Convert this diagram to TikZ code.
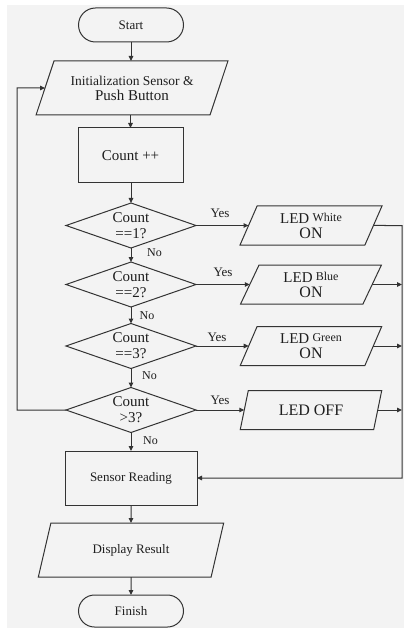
\documentclass[tikz,border=0pt]{standalone}
\usepackage{fontspec}
\setmainfont{Liberation Serif}
\usetikzlibrary{shapes.geometric,arrows.meta}
\definecolor{pagebg}{HTML}{F3F3F3}
\definecolor{ink}{HTML}{333333}
\definecolor{textink}{HTML}{1E1E1E}
\begin{document}
\begin{tikzpicture}[x=1pt,y=-1pt,
  every node/.style={font=\fontsize{13}{15}\selectfont, text=textink},
  box/.style={draw=ink, line width=1pt, fill=pagebg, inner sep=0pt, outer sep=0pt},
  terminal/.style={box, rectangle, rounded corners=17pt, minimum width=105pt, minimum height=34pt},
  process/.style={box, rectangle, align=center},
  io/.style={box, trapezium, trapezium stretches=true, align=center},
  ledbox/.style={io, trapezium left angle=69, trapezium right angle=111,
    minimum width=142pt, minimum height=39pt},
  decision/.style={box, diamond, minimum width=130pt, minimum height=45pt,
    label={[align=center, inner sep=0pt, font=\fontsize{15}{16}\selectfont]center:#1}},
  flow/.style={draw=ink, line width=1pt, -{Triangle[length=5pt,width=4.5pt]}},
  yeslbl/.style={font=\fontsize{13}{15}\selectfont, inner sep=0pt},
  nolbl/.style={font=\fontsize{12}{14}\selectfont, inner sep=0pt}
]
\useasboundingbox (0,0) rectangle (404,628);
\fill[white] (0,0) rectangle (404,628);
\fill[pagebg] (7,5) rectangle (404,628);

% main column
\node[terminal] (start) at (131,25) {Start};
\node[io, trapezium left angle=60, trapezium right angle=120,
      minimum width=192pt, minimum height=54pt] (init) at (132,88)
  {{\fontsize{13.5}{16}\selectfont Initialization Sensor \&}\\{\fontsize{15}{16}\selectfont Push Button}};
\node[process, minimum width=105pt, minimum height=55pt,
      font=\fontsize{15}{17}\selectfont] (count) at (130.5,155.5) {Count ++};
\node[decision={Count\\==1?}] (d1) at (131,225.5) {};
\node[decision={Count\\==2?}] (d2) at (131,284.5) {};
\node[decision={Count\\==3?}] (d3) at (131,346) {};
\node[decision={Count\\>3?}] (d4) at (131,410) {};
\node[process, minimum width=132pt, minimum height=54pt] (sensor) at (131,478) {Sensor Reading};
\node[io, trapezium left angle=63, trapezium right angle=117,
      minimum width=186pt, minimum height=54pt] (display) at (131,550) {Display Result};
\node[terminal, minimum height=32pt, rounded corners=16pt] (finish) at (131,611) {Finish};

% LED outputs
\newcommand{\ledline}[1]{{\fontsize{15}{16}\selectfont LED} \raisebox{2pt}{\fontsize{12}{14}\selectfont #1}\\{\fontsize{16}{17}\selectfont ON}}
\node[ledbox] (led1) at (311,225.5) {\ledline{White}};
\node[ledbox] (led2) at (311,284.5) {\ledline{Blue}};
\node[ledbox] (led3) at (311,346) {\ledline{Green}};
\node[ledbox, font=\fontsize{16}{17}\selectfont] (led4) at (311,410) {LED OFF};

% bus coordinates
\coordinate (busTop) at (402,225.5);
\coordinate (busBot) at (402,478);
\coordinate (loopTop) at (17,88);

% vertical flow
\draw[flow] (start.south) -- (start.south |- init.north);
\draw[flow] (count.north |- init.south) -- (count.north);
\draw[flow] (d1.north |- count.south) -- (d1.north);
\draw[flow] (d1.south) -- (d2.north);
\draw[flow] (d2.south) -- (d3.north);
\draw[flow] (d3.south) -- (d4.north);
\draw[flow] (d4.south) -- (sensor.north);
\draw[flow] (sensor.south) -- (display.north);
\draw[flow] (display.south) -- (finish.north);

% yes branches
\draw[flow] (d1.east) -- (d1.east -| led1.west);
\draw[flow] (d2.east) -- (d2.east -| led2.west);
\draw[flow] (d3.east) -- (d3.east -| led3.west);
\draw[flow] (d4.east) -- (d4.east -| led4.west);

% return bus on the right
\draw[flow] (led1.east) -- (busTop) -- (busBot) -- (sensor.east);
\draw[flow] (led2.east) -- (led2.east -| busBot);
\draw[flow] (led3.east) -- (led3.east -| busBot);
\draw[flow] (led4.east) -- (led4.east -| busBot);

% loop back to initialization
\draw[flow] (d4.west) -| (loopTop) -- (init.west);

% branch labels
\node[yeslbl] (yes1) at (220,213) {Yes};
\node[yeslbl] (yes2) at (223,272) {Yes};
\node[yeslbl] (yes3) at (217,337) {Yes};
\node[yeslbl] (yes4) at (220,400) {Yes};
\node[nolbl] (no1) at (154.5,253) {No};
\node[nolbl] (no2) at (147,316) {No};
\node[nolbl] (no3) at (149.5,376) {No};
\node[nolbl] (no4) at (150.5,441) {No};
\end{tikzpicture}
\end{document}
